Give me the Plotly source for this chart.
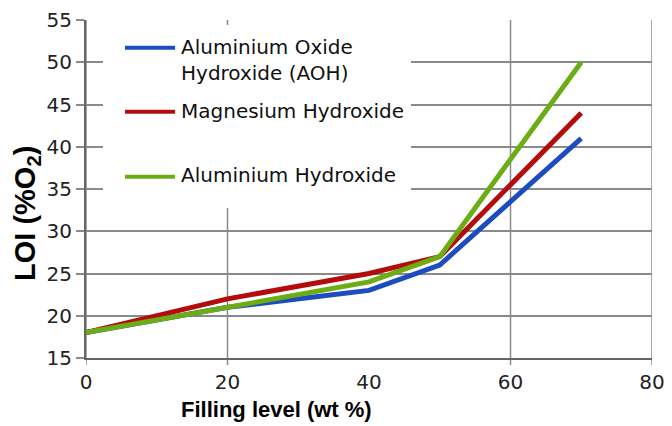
import plotly.graph_objects as go

# ---- data ----
filling = [0, 20, 40, 50, 70]
aoh = [18, 21, 23, 26, 41]
mgoh = [18, 22, 25, 27, 44]
ath = [18, 21, 24, 27, 50]

series_names = ["Aluminium Oxide<br>Hydroxide (AOH)", "Magnesium Hydroxide", "Aluminium Hydroxide"]
series_colors = ["#1c4cc0", "#b40c0c", "#6cac14"]

x_ticks = [0, 20, 40, 60, 80]
y_ticks = [15, 20, 25, 30, 35, 40, 45, 50, 55]
x_grid = [0, 20, 60, 80]

# page body has an 8px margin; figure coords = page coords - 8
OFF = 8
W, H = 672 - OFF, 426 - OFF
ML, MR, MT, MB = 86 - OFF, 20, 20 - OFF, 68
PW, PH = W - ML - MR, H - MT - MB


def px(xp):
    return (xp - OFF - ML) / PW


def py(yp):
    return (MT + PH - (yp - OFF)) / PH


fig = go.Figure()
for name, ys, col in zip(series_names, [aoh, mgoh, ath], series_colors):
    fig.add_trace(go.Scatter(x=filling, y=ys, mode="lines", name=name,
                             line=dict(color=col, width=5), showlegend=False))

grid_col = "#8a8a8a"
shapes = []
for v in x_grid:
    shapes.append(dict(type="line", xref="x", yref="paper", x0=v, x1=v,
                       y0=-7 / PH, y1=1, line=dict(color=grid_col, width=1.5),
                       layer="below"))
# legend background
shapes.append(dict(type="rect", xref="paper", yref="paper",
                   x0=px(103), x1=px(411), y0=py(208), y1=py(25),
                   fillcolor="white", line=dict(width=0), layer="above"))
leg_line_y = [47.7, 111.7, 176.7]
leg_text_y = [60, 111, 175]
annotations = []
for name, col, ly, ty in zip(series_names, series_colors, leg_line_y, leg_text_y):
    shapes.append(dict(type="line", xref="paper", yref="paper",
                       x0=px(125), x1=px(175), y0=py(ly), y1=py(ly),
                       line=dict(color=col, width=4), layer="above"))
    annotations.append(dict(xref="paper", yref="paper", x=px(179), y=py(ty),
                            text=name, showarrow=False, xanchor="left",
                            yanchor="middle", align="left",
                            font=dict(family="DejaVu Sans", size=20, color="#111")))

annotations.append(dict(xref="paper", yref="paper", x=px(276), y=py(410),
                        text="<b>Filling level (wt %)</b>", showarrow=False,
                        xanchor="center", yanchor="middle",
                        font=dict(family="Liberation Sans", size=22, color="black")))
annotations.append(dict(xref="paper", yref="paper", x=px(27), y=py(214),
                        text="<b>LOI (%O<sub>2</sub>)</b>", showarrow=False,
                        textangle=-90, xanchor="center", yanchor="middle",
                        font=dict(family="Liberation Sans", size=29, color="black")))

fig.update_layout(
    width=W, height=H,
    margin=dict(l=ML, r=MR, t=MT, b=MB, autoexpand=False),
    paper_bgcolor="white", plot_bgcolor="white",
    shapes=shapes, annotations=annotations,
    xaxis=dict(range=[0, 80], tickvals=x_ticks, ticktext=[str(v) for v in x_ticks],
               automargin=False,
               showgrid=False, zeroline=False, showline=True, linecolor="#666", linewidth=2,
               ticks="outside", ticklen=5, tickcolor="rgba(0,0,0,0)",
               tickfont=dict(family="DejaVu Sans", size=20, color="#222")),
    yaxis=dict(range=[15, 55], tickvals=y_ticks, ticktext=[str(v) for v in y_ticks],
               automargin=False,
               showgrid=True, gridcolor=grid_col, gridwidth=1.5, zeroline=False,
               showline=True, linecolor="#666", linewidth=2,
               ticks="outside", ticklen=8, tickcolor=grid_col, tickwidth=1.5,
               tickfont=dict(family="DejaVu Sans", size=20, color="#222")),
)

fig.write_html("out.html")
